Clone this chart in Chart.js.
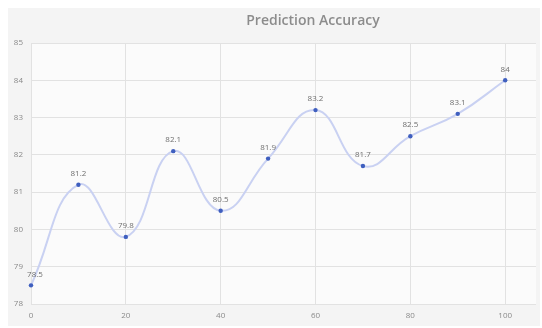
<!DOCTYPE html>
<html>
<head>
<meta charset="utf-8">
<script src="https://cdn.jsdelivr.net/npm/chart.js@4/dist/chart.umd.min.js"></script>
<style>
  html, body { margin: 0; padding: 0; background: #ffffff; }
  #wrap { position: relative; width: 542px; height: 328px; }
</style>
</head>
<body>
<div id="wrap"><canvas id="chart" width="542" height="328"></canvas></div>
<script>
const steps = [0, 10, 20, 30, 40, 50, 60, 70, 80, 90, 100];
const accuracy = [78.5, 81.2, 79.8, 82.1, 80.5, 81.9, 83.2, 81.7, 82.5, 83.1, 84];
const xTicks = [0, 20, 40, 60, 80, 100];

const panelPlugin = {
  id: 'panel',
  beforeDraw(chart) {
    const { ctx, chartArea } = chart;
    ctx.save();
    ctx.fillStyle = '#f4f4f4';
    ctx.fillRect(8, 8, chart.width - 10, chart.height - 10);
    ctx.fillStyle = '#fbfbfb';
    ctx.fillRect(chartArea.left, chartArea.top, chartArea.right - chartArea.left, chartArea.bottom - chartArea.top);
    ctx.restore();
  },
  afterLayout(chart) {
    // shift the title block so its centre sits where the reference has it
    if (chart.titleBlock) {
      chart.titleBlock.left += 82;
    }
  }
};

const valueLabels = {
  id: 'valueLabels',
  afterDatasetsDraw(chart) {
    const { ctx } = chart;
    const meta = chart.getDatasetMeta(0);
    ctx.save();
    ctx.font = '8px "Open Sans", sans-serif';
    ctx.fillStyle = '#6f6f6f';
    ctx.textAlign = 'center';
    ctx.textBaseline = 'bottom';
    meta.data.forEach((pt, i) => {
      const x = i === 0 ? pt.x + 4 : pt.x;
      ctx.fillText(String(accuracy[i]), x, pt.y - 7);
    });
    ctx.restore();
  }
};

new Chart(document.getElementById('chart'), {
  type: 'line',
  data: {
    datasets: [{
      label: 'Accuracy',
      data: steps.map((s, i) => ({ x: s, y: accuracy[i] })),
      borderColor: '#c9d1f2',
      backgroundColor: '#3f5fbf',
      borderWidth: 2,
      pointRadius: 2.2,
      pointBorderWidth: 0,
      pointBackgroundColor: '#3f5fbf',
      tension: 0.45,
      clip: false
    }]
  },
  options: {
    responsive: false,
    animation: false,
    layout: { padding: { left: 8, right: 6, top: 4, bottom: 4 } },
    scales: {
      x: {
        type: 'linear',
        min: 0,
        max: 106.5,
        afterBuildTicks(scale) {
          scale.ticks = xTicks.map((v) => ({ value: v }));
        },
        afterFit(scale) { scale.height = 20; },
        border: { display: false },
        grid: { color: '#e2e2e2', lineWidth: 1, drawTicks: false },
        ticks: { color: '#8a8a8a', font: { size: 8, family: '"Open Sans", sans-serif' }, padding: 7, maxRotation: 0 }
      },
      y: {
        min: 78,
        max: 85,
        afterFit(scale) { scale.width = 23; },
        border: { display: false },
        grid: { color: '#e2e2e2', lineWidth: 1, drawTicks: false },
        ticks: { stepSize: 1, color: '#8a8a8a', font: { size: 8, family: '"Open Sans", sans-serif' }, padding: 8 }
      }
    },
    plugins: {
      legend: { display: false },
      tooltip: { enabled: false },
      title: {
        display: true,
        text: 'Prediction Accuracy',
        color: '#8c8c8c',
        font: { size: 14, weight: '600', family: '"Open Sans", sans-serif' },
        padding: { top: 9, bottom: 13.2 }
      }
    }
  },
  plugins: [panelPlugin, valueLabels]
});
</script>
</body>
</html>
